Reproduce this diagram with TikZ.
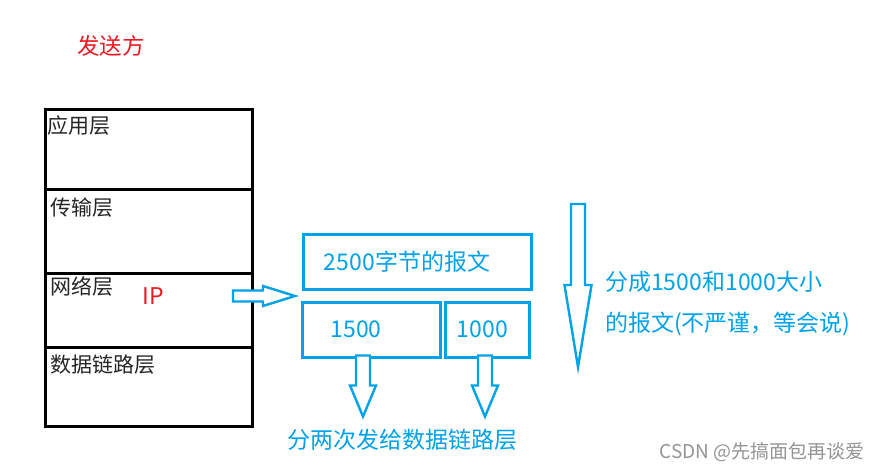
\documentclass[tikz,border=0pt]{standalone}
\usepackage{fontspec}
\setmainfont{Noto Sans CJK SC}
\usetikzlibrary{positioning}
\definecolor{pblue}{RGB}{0,162,232}
\definecolor{pred}{RGB}{240,24,32}

\begin{document}
\begin{tikzpicture}[
  x=1pt, y=-1pt,
  layer/.style={draw, line width=3pt, minimum width=207pt, inner sep=0pt, outer sep=0pt},
  laylbl/.style={anchor=west, inner sep=0pt, text=black!85, font=\fontsize{21}{24}\selectfont},
  pkt/.style={draw=pblue, line width=3pt, inner sep=0pt, minimum height=55pt},
  btxt/.style={inner sep=0pt, text=pblue, font=\fontsize{23}{26}\selectfont},
  rtxt/.style={inner sep=0pt, text=pred, font=\fontsize{23}{26}\selectfont},
  hollow/.style={draw=pblue, line width=2.4pt, fill=white, line join=miter}
]

%
%  Layout (pixels, y grows down):
%
%  [stack]   ==>   [2500 bytes]          ||   note
%                  [1500] [1000]         \/
%                    ||     ||
%                    \/     \/
%                  text below
%

\useasboundingbox[fill=white] (0,0) rectangle (883,474);

% --- sender ---
\node[rtxt, font=\fontsize{22.5}{26}\selectfont] (sender) at (111,46) {发送方};

% --- protocol stack ---
\node[layer, minimum height=80pt] (app) at (148.5,149) {};
\node[layer, minimum height=84pt, below=0pt of app]   (trans) {};
\node[layer, minimum height=74pt, below=0pt of trans] (net)   {};
\node[layer, minimum height=79pt, below=0pt of net]   (link)  {};

\node[laylbl] (applbl)   at (47,126) {应用层};
\node[laylbl] (translbl) at (50,208) {传输层};
\node[laylbl] (netlbl)   at (50,286) {网络层};
\node[laylbl] (linklbl)  at (50,365) {数据链路层};
\node[rtxt] (ip) at (153,296) {IP};

% --- packets ---
\node[pkt, minimum width=228pt] (msg) at (417,261.5) {};
\node[btxt] (msgtxt) at ([xshift=-10pt]msg.center) {2500字节的报文};

\node[pkt, minimum width=138pt] (p1) at (371,329.5) {};
\node[btxt] (p1txt) at ([xshift=-15pt]p1.center) {1500};

\node[pkt, minimum width=84pt] (p2) at (487,329.5) {};
\node[btxt] (p2txt) at ([xshift=-4.5pt]p2.center) {1000};

% --- notes ---
\node[btxt, anchor=west] (note1) at (605,282) {分成1500和1000大小};
\node[btxt, anchor=west] (note2) at (605,324) {的报文(不严谨，等会说)};
\node[btxt] (send) at (402.5,440) {分两次发给数据链路层};

\node[inner sep=0pt, text=black!42, font=\fontsize{19}{22}\selectfont]
      (mark) at (762,452.5) {CSDN @先搞面包再谈爱};

% ---- hollow arrows ----

% IP -> 2500 byte message
\coordinate (ipout) at (233,296);
\draw[hollow] (ipout) ++(0,-5.5) -- ++(30,0) -- ++(0,-4.5) -- ++(32,10)
      -- ++(-32,10) -- ++(0,-4.5) -- ++(-30,0) -- cycle;

% split, big arrow
\coordinate (splittop) at (578,204);
\draw[hollow] (splittop) ++(-7,0) -- ++(0,81) -- ++(-6.5,0) -- ++(13.5,82)
      -- ++(13.5,-82) -- ++(-6.5,0) -- ++(0,-81) -- cycle;

% 1500 -> link layer
\coordinate (p1out) at ([xshift=-8pt, yshift=3pt]p1.south);
\draw[hollow] (p1out) ++(-7,0) -- ++(0,30) -- ++(-6,0) -- ++(13,31)
      -- ++(13,-31) -- ++(-6,0) -- ++(0,-30) -- cycle;

% 1000 -> link layer
\coordinate (p2out) at ([xshift=-2pt, yshift=3pt]p2.south);
\draw[hollow] (p2out) ++(-7,0) -- ++(0,30) -- ++(-6,0) -- ++(13,31)
      -- ++(13,-31) -- ++(-6,0) -- ++(0,-30) -- cycle;

\end{tikzpicture}
\end{document}
